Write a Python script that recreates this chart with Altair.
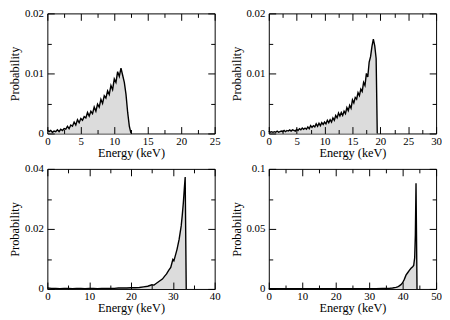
import altair as alt
import pandas as pd

# ---------------- data (probabilities in units of 1e-3) ----------------
E1 = [0.0, 0.25, 0.5, 0.75, 1.0, 1.25, 1.5, 1.75, 2.0, 2.25, 2.5, 2.75, 3.0, 3.25, 3.5, 3.75,
      4.0, 4.25, 4.5, 4.75, 5.0, 5.25, 5.5, 5.75, 6.0, 6.25, 6.5, 6.75, 7.0, 7.25, 7.5, 7.75,
      8.0, 8.25, 8.5, 8.75, 9.0, 9.25, 9.5, 9.75, 10.0, 10.25, 10.5, 10.75, 11.0, 11.25, 11.5,
      11.75, 12.0, 12.25, 12.5]
P1 = [0.6, 0.3, 0.5, 0.2, 0.4, 0.3, 0.6, 0.3, 0.7, 0.5, 0.8, 0.7, 1.2, 0.8, 1.4, 1.2,
      1.9, 1.4, 2.3, 1.8, 2.5, 2.2, 2.8, 2.6, 3.5, 2.9, 3.7, 3.3, 4.4, 3.7, 4.9, 4.4,
      5.7, 5.0, 6.3, 5.9, 7.1, 6.5, 8.0, 7.3, 9.1, 8.5, 10.3, 9.5, 10.9, 9.7, 8.5,
      6.5, 3.5, 1.2, 0.0]

E2 = [0.0, 0.25, 0.5, 0.75, 1.0, 1.25, 1.5, 1.75, 2.0, 2.25, 2.5, 2.75, 3.0, 3.25, 3.5, 3.75,
      4.0, 4.25, 4.5, 4.75, 5.0, 5.25, 5.5, 5.75, 6.0, 6.25, 6.5, 6.75, 7.0, 7.25, 7.5, 7.75,
      8.0, 8.25, 8.5, 8.75, 9.0, 9.25, 9.5, 9.75, 10.0, 10.25, 10.5, 10.75, 11.0, 11.25, 11.5,
      11.75, 12.0, 12.25, 12.5, 12.75, 13.0, 13.25, 13.5, 13.75, 14.0, 14.25, 14.5, 14.75,
      15.0, 15.25, 15.5, 15.75, 16.0, 16.25, 16.5, 16.75, 17.0, 17.25, 17.5, 17.75, 18.0,
      18.25, 18.5, 18.75, 19.0, 19.25, 19.45]
P2 = [0.4, 0.2, 0.3, 0.2, 0.3, 0.2, 0.4, 0.2, 0.3, 0.4, 0.3, 0.5, 0.3, 0.5, 0.4, 0.6,
      0.4, 0.6, 0.5, 0.4, 0.7, 0.5, 0.8, 0.6, 0.9, 0.7, 0.9, 0.7, 1.1, 0.8, 1.3, 1.0,
      1.3, 1.1, 1.6, 1.2, 1.7, 1.3, 1.8, 1.5, 1.9, 1.6, 2.2, 1.8, 2.3, 1.9, 2.6,
      2.2, 3.0, 2.6, 3.4, 2.9, 3.5, 3.0, 3.7, 3.3, 4.3, 3.8, 4.7, 4.2,
      5.6, 5.1, 6.0, 5.7, 6.8, 6.3, 7.4, 7.0, 8.5, 8.0, 10.0, 9.4, 11.9,
      12.8, 14.5, 15.7, 14.6, 12.5, 0.0]

E3 = [0, 1, 2, 3, 4, 5, 6, 7, 8, 9, 10, 11, 12, 13, 14, 15, 16, 17, 18, 19, 20, 21, 22, 23, 24,
      25, 25.5, 26, 26.5, 27, 27.5, 28, 28.5, 29, 29.5, 30, 30.25, 30.5, 31, 31.5, 32, 32.25,
      32.5, 32.75, 32.95, 33.2]
P3 = [0.3, 0.2, 0.2, 0.1, 0.2, 0.2, 0.1, 0.2, 0.2, 0.1, 0.2, 0.2, 0.1, 0.2, 0.2, 0.2, 0.2,
      0.3, 0.3, 0.3, 0.4, 0.4, 0.5, 0.7, 0.9,
      1.4, 1.3, 1.8, 2.3, 2.8, 3.3, 4.2, 5.0, 6.2, 7.2, 9.8, 9.4, 10.6, 13.2, 16.5, 21.0, 24.5,
      28.5, 33.5, 37.3, 0.0]

E4 = [0, 2, 4, 6, 8, 10, 12, 14, 16, 18, 20, 22, 24, 26, 28, 30, 32, 34, 35, 36, 37, 38,
      38.5, 39, 39.5, 40, 40.5, 41, 41.5, 42, 42.5, 43, 43.3, 43.6, 43.8, 44.0, 44.3]
P4 = [0.3, 0.2, 0.3, 0.2, 0.3, 0.2, 0.3, 0.2, 0.3, 0.2, 0.3, 0.2, 0.3, 0.2, 0.3, 0.3, 0.3, 0.4,
      0.4, 0.5, 0.8, 1.3, 1.8, 2.6, 3.6, 5.2, 8.0, 11.5, 13.5, 15.5, 17.2, 18.5, 19.5, 26.0,
      45.0, 88.0, 0.0]

# axis ranges and tick labels
X_MAX = [25, 30, 40, 50]
X_MAJOR = [[0, 5, 10, 15, 20, 25], [0, 5, 10, 15, 20, 25, 30],
           [0, 10, 20, 30, 40], [0, 10, 20, 30, 40, 50]]
X_MINOR = [2.5, 2.5, 5, 5]
Y_MAX = [0.02, 0.02, 0.04, 0.1]
Y_MAJOR = [[0, 0.01, 0.02], [0, 0.01, 0.02], [0, 0.02, 0.04], [0, 0.05, 0.1]]
Y_MINOR = [0.005, 0.005, 0.01, 0.025]

FONT = "Liberation Serif"
W, H = 170, 122
FILL = "#dcdcdc"


def all_ticks(vmax, step):
    n = int(round(vmax / step))
    return [round(i * step, 6) for i in range(n + 1)]


def tick_axis(orient, offset, values, step):
    size = {"condition": {"test": f"round(datum.value / {step}) % 2 === 0", "value": 7},
            "value": 4}
    return alt.Axis(orient=orient, offset=offset, values=values, labels=False,
                    domain=False, grid=False, title=None, tickSize=size,
                    tickColor="black", tickWidth=1, zindex=1)


def panel(E, P, k):
    df = pd.DataFrame({"E": E, "P": [p * 1e-3 for p in P]})
    xs = alt.Scale(domain=[0, X_MAX[k]], nice=False, zero=True)
    ys = alt.Scale(domain=[0, Y_MAX[k]], nice=False, zero=True)
    xt = all_ticks(X_MAX[k], X_MINOR[k])
    yt = all_ticks(Y_MAX[k], Y_MINOR[k])

    label_x = alt.Axis(values=X_MAJOR[k], ticks=False, domain=False, grid=False,
                       labelFlush=False, labelPadding=2, title="Energy (keV)",
                       titlePadding=0, format="~r", labelFont=FONT, titleFont=FONT,
                       labelFontSize=11, titleFontSize=12.5, labelColor="black",
                       titleColor="black", titleFontWeight="normal")
    label_y = alt.Axis(values=Y_MAJOR[k], ticks=False, domain=False, grid=False,
                       labelPadding=4, title="Probability", titlePadding=3,
                       minExtent=23, maxExtent=23, format="~r", labelFont=FONT,
                       titleFont=FONT, labelFontSize=11, titleFontSize=12.5,
                       labelColor="black", titleColor="black", titleFontWeight="normal")

    base = alt.Chart(df)
    area = base.mark_area(color=FILL, interpolate="linear").encode(
        x=alt.X("E:Q", scale=xs, axis=label_x),
        y=alt.Y("P:Q", scale=ys, axis=label_y),
    )
    line = base.mark_line(color="black", strokeWidth=1.4).encode(
        x=alt.X("E:Q", scale=xs, axis=tick_axis("top", -H, xt, X_MINOR[k])),
        y=alt.Y("P:Q", scale=ys, axis=tick_axis("right", -W, yt, Y_MINOR[k])),
    )
    ghost = base.mark_line(strokeOpacity=0).encode(
        x=alt.X("E:Q", scale=xs, axis=tick_axis("bottom", -H, xt, X_MINOR[k])),
        y=alt.Y("P:Q", scale=ys, axis=tick_axis("left", -W, yt, Y_MINOR[k])),
    )
    return alt.layer(area, line, ghost).resolve_axis(
        x="independent", y="independent"
    ).properties(width=W, height=H)


chart = alt.concat(
    panel(E1, P1, 0), panel(E2, P2, 1), panel(E3, P3, 2), panel(E4, P4, 3),
    columns=2, spacing={"row": 3, "column": 9},
).properties(
    padding={"left": 0, "top": -4, "right": 0, "bottom": 0}
).configure_view(
    stroke="black", strokeWidth=1
)

chart.save("out.html", embed_options={"renderer": "svg", "actions": False})
